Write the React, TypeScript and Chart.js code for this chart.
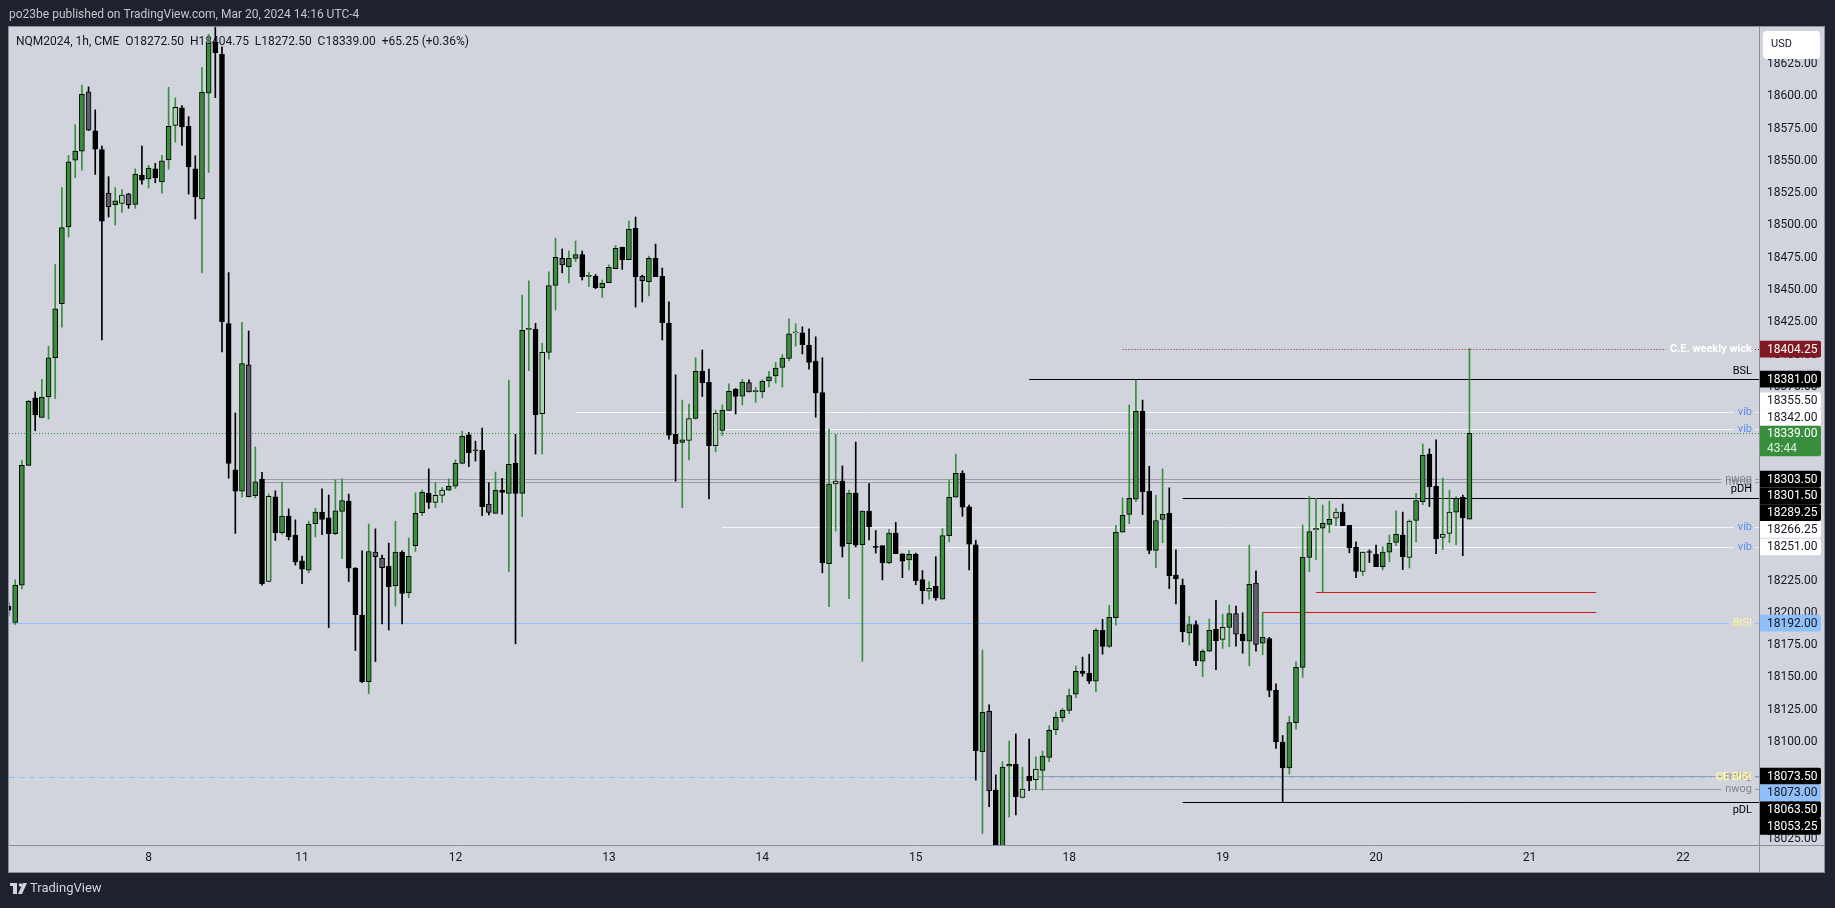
import React, { useEffect, useRef } from 'react';
import { Chart, registerables } from 'chart.js';

Chart.register(...registerables);

// ---------------- DATA ----------------
// Hourly bars of NQM2024 (CME), first element is bar index FIRST_BAR (Mar 7, 02:00 ET)
const FIRST_BAR = -1;

const opens = [
  18205, 18192.5, 18221.5, 18314.25, 18366.25, 18351.25, 18367.25, 18397.5, 18439.5, 18498.75,
  18550.5, 18557.5, 18603.5, 18573.25, 18558.75, 18525, 18516, 18517, 18524.5, 18516.25,
  18539, 18536, 18543.75, 18533.75, 18550.75, 18577.5, 18591, 18576.75, 18543.75, 18520.5,
  18602.5, 18641.75, 18632.5, 18424, 18310.75, 18294.25, 18392, 18290.75, 18303.5, 18224.25,
  18289.75, 18262, 18275, 18260.25, 18240.25, 18233, 18269, 18278, 18273.5, 18261.25,
  18278.5, 18286.5, 18234.75, 18198.25, 18146.75, 18247, 18242.25, 18236, 18221, 18247,
  18215.5, 18252, 18277.5, 18292.5, 18285.5, 18291, 18295, 18298, 18315.75, 18337.75,
  18326, 18325.75, 18284.25, 18277, 18295, 18292.5, 18315.75, 18292.5, 18419.5, 18419.5,
  18354.25, 18401.75, 18453.5, 18474.5, 18468, 18474.5, 18477.5, 18460.5, 18460.5, 18451.75,
  18455.75, 18466.5, 18483, 18473.5, 18497.75, 18460.5, 18456.5, 18474.5, 18460.5, 18424.25,
  18338.25, 18332, 18333.5, 18350.5, 18387, 18378.5, 18329.5, 18341.25, 18356.75, 18373,
  18367.75, 18378.25, 18371.25, 18371, 18379.5, 18383.5, 18390, 18397, 18416.75, 18416.75,
  18407.25, 18395, 18370.5, 18238, 18299.75, 18302, 18253.5, 18292.75, 18252.75, 18278.75,
  18251, 18252, 18238.75, 18261.75, 18245.75, 18241, 18245.25, 18225.75, 18216.75, 18220.5,
  18210.5, 18259.75, 18289.5, 18308, 18282, 18252.75, 18092.5, 18123.75, 18062.75, 18015,
  18081.25, 18082.75, 18057, 18073.5, 18070.75, 18078, 18088, 18109.5, 18118.75, 18124.5,
  18137, 18154.75, 18153.25, 18147, 18186.5, 18174, 18196.25, 18262.5, 18276.25, 18288,
  18356, 18294, 18248.25, 18272.25, 18277, 18229.25, 18221.25, 18184.5, 18191, 18162.5,
  18170.25, 18187.25, 18179.5, 18188.75, 18199.5, 18183.5, 18178, 18223, 18176.5, 18180,
  18140, 18100, 18080, 18115, 18157.75, 18243, 18264.25, 18265.5, 18268.5, 18273.25,
  18278, 18267.75, 18250.75, 18232, 18247, 18245.25, 18235.75, 18247, 18254.5, 18260.25,
  18243, 18271.5, 18286, 18322.75, 18298, 18258.5, 18261.5, 18278, 18289.5, 18272.5,
];

const highs = [
  18208, 18225.5, 18318, 18364.5, 18371, 18380.75, 18406.5, 18469.75, 18529.25, 18554.25,
  18578, 18608.75, 18607.25, 18589.5, 18561.5, 18537.75, 18529.25, 18527.75, 18524.75, 18543.75,
  18561.5, 18546.5, 18548, 18554.25, 18607, 18598.75, 18592.75, 18584.25, 18554, 18622.25,
  18648, 18660, 18638.25, 18463.5, 18354.75, 18425, 18418.25, 18328.5, 18308.75, 18292,
  18294.5, 18301.25, 18280.5, 18272, 18244, 18271, 18281, 18296, 18291.25, 18303,
  18303.75, 18292, 18235, 18248, 18268.75, 18265, 18244.75, 18254, 18271, 18248,
  18258, 18293, 18295, 18311.5, 18301, 18297, 18303.75, 18318.5, 18340.75, 18339.75,
  18333, 18343, 18300.75, 18309, 18304.25, 18380.25, 18338.25, 18446, 18457, 18424.25,
  18408.75, 18464, 18490.25, 18481.75, 18480.25, 18488, 18480.25, 18463.75, 18462, 18457.75,
  18469.5, 18484.5, 18483.25, 18503.5, 18506.5, 18461.5, 18476.25, 18485.5, 18467, 18440.75,
  18384.25, 18364.75, 18361.75, 18397.5, 18403.5, 18388.75, 18357, 18361, 18377.25, 18373.75,
  18380.75, 18380.5, 18374.5, 18380.5, 18387, 18394, 18400, 18427.75, 18423.75, 18421.5,
  18420, 18413.75, 18397.5, 18342.25, 18338.25, 18313.75, 18295, 18332.25, 18279, 18300,
  18263.75, 18252, 18264.75, 18270, 18245.75, 18248.5, 18246.25, 18232.75, 18224.25, 18243.5,
  18265.25, 18303, 18323, 18310, 18283.5, 18256.25, 18171.25, 18128.75, 18074.5, 18084.75,
  18100.75, 18106.25, 18080.5, 18102.25, 18088.5, 18093, 18112.5, 18123.25, 18126, 18141,
  18158.75, 18165.75, 18168, 18187.75, 18195, 18205.75, 18267.75, 18289, 18361, 18380.25,
  18364.75, 18313.5, 18291.25, 18311.5, 18296.75, 18248.75, 18226.25, 18197.5, 18193.75, 18171.75,
  18195.25, 18209.75, 18199, 18206, 18205.25, 18200, 18252.5, 18232.5, 18200.5, 18181,
  18145, 18105, 18120, 18162, 18268, 18290, 18288.75, 18283.5, 18286.5, 18281,
  18284.25, 18267.75, 18255, 18247, 18248.75, 18252.5, 18251.25, 18260.25, 18279, 18278,
  18272, 18292.5, 18330.75, 18327, 18334, 18304.5, 18295, 18290, 18291.25, 18404.75,
];

const lows = [
  18198, 18191, 18218.5, 18314, 18341, 18351, 18350, 18366, 18421.25, 18491,
  18537, 18542.75, 18573.5, 18539.5, 18411.25, 18506.5, 18500.25, 18510, 18513.25, 18513.25,
  18532, 18529, 18533, 18525, 18543.5, 18564.5, 18562, 18524.25, 18505, 18463.25,
  18541, 18599, 18402, 18304.25, 18261.5, 18289.5, 18289.75, 18289, 18221.5, 18224,
  18256, 18260.75, 18256.5, 18237, 18222.5, 18231, 18258.75, 18260.5, 18188.5, 18260.5,
  18242, 18224.25, 18170.75, 18146, 18137.5, 18162.25, 18191.5, 18186.75, 18205.25, 18191.5,
  18211.75, 18247.5, 18275.25, 18280.75, 18281.5, 18285.25, 18294.75, 18296.25, 18315.25, 18313.25,
  18317.5, 18275.25, 18275.75, 18277, 18276.5, 18232, 18176, 18274.5, 18387.5, 18323,
  18323, 18396.5, 18434.5, 18463.25, 18455.5, 18472, 18457.75, 18452.5, 18451, 18444.25,
  18455.75, 18466.5, 18466, 18473.5, 18436.75, 18440.75, 18445.5, 18460.25, 18411.25, 18334.5,
  18302, 18281.5, 18318.5, 18350, 18367.5, 18288.25, 18324.75, 18337.25, 18356.75, 18354,
  18361, 18371, 18363, 18366.5, 18375, 18378, 18374.75, 18395, 18406.5, 18400.5,
  18388.75, 18351.5, 18231, 18204.75, 18263.25, 18243.25, 18211, 18251, 18162.5, 18256.5,
  18246.25, 18225.5, 18238, 18245.75, 18227.25, 18233.25, 18221.75, 18207, 18210.5, 18209.75,
  18210.5, 18255, 18289.5, 18274.75, 18233.25, 18070.5, 18029.25, 18050, 17998, 18005,
  18041.75, 18043.5, 18056.5, 18062.25, 18063, 18062.75, 18084.75, 18105.75, 18115.75, 18122,
  18134.25, 18151, 18145.25, 18139, 18168, 18173.25, 18190.5, 18262.5, 18269, 18286,
  18276, 18245.75, 18235, 18254.25, 18218.75, 18207, 18177.5, 18175, 18159, 18150.5,
  18170, 18156, 18172.5, 18173.75, 18174.25, 18168.75, 18159, 18170.25, 18167.5, 18135,
  18095, 18053.25, 18075, 18110, 18150, 18232, 18241.25, 18216, 18262, 18267.5,
  18267.5, 18246.5, 18227.25, 18229, 18239, 18235.75, 18233.25, 18239.5, 18252, 18233.5,
  18234.75, 18255, 18283.75, 18282.25, 18245.75, 18249, 18254.5, 18252.75, 18244.25, 18272.5,
];

const closes = [
  18202, 18221.5, 18314.25, 18363.75, 18353.25, 18367, 18397.5, 18435.5, 18498.25, 18549.25,
  18557.5, 18601.5, 18573.75, 18559, 18503.25, 18514.5, 18519, 18523.5, 18516, 18539.75,
  18535, 18544.5, 18537, 18550, 18576.75, 18591.5, 18576.25, 18545.25, 18522, 18603,
  18641.25, 18633.75, 18425.5, 18315.75, 18294.25, 18393, 18290, 18301.5, 18222.5, 18290.25,
  18262, 18275, 18259, 18239.5, 18233.75, 18268.5, 18278, 18272.25, 18261.25, 18279,
  18287, 18234.5, 18198.5, 18146.75, 18247.5, 18243.5, 18235, 18220.25, 18247, 18215,
  18243.75, 18277, 18293.25, 18285.5, 18291, 18295, 18298, 18315.75, 18336.75, 18324,
  18325.5, 18282.25, 18277.75, 18295, 18293.25, 18315, 18292.5, 18418.75, 18419.75, 18353.5,
  18401.75, 18453.5, 18475.25, 18469.5, 18474.5, 18477.5, 18460.25, 18460.75, 18451.75, 18455.25,
  18467.5, 18482.25, 18473.5, 18497, 18460.25, 18457.25, 18474.5, 18460.25, 18424.75, 18337.5,
  18331, 18334, 18350.5, 18387, 18378.25, 18329.5, 18354.5, 18356.75, 18371.5, 18367.5,
  18378.75, 18371, 18371.5, 18379.5, 18382.75, 18389.5, 18397.25, 18416, 18417, 18407.75,
  18394, 18370.25, 18238.75, 18299.75, 18302, 18251.5, 18292.75, 18252.5, 18278.75, 18266.5,
  18250.75, 18238.75, 18261.75, 18245.75, 18240, 18245.25, 18225, 18217.25, 18219, 18211.75,
  18259.75, 18289.5, 18308, 18281.75, 18253.25, 18093.25, 18123, 18062.25, 18010, 18080.5,
  18082.75, 18057.75, 18063.5, 18070, 18079, 18089, 18109, 18119, 18124.5, 18136,
  18154.75, 18153, 18147, 18186.5, 18174, 18196.5, 18262.5, 18275.5, 18288.75, 18356,
  18293.75, 18248.25, 18271.5, 18276.25, 18228.75, 18226.5, 18185.5, 18191, 18163, 18170.25,
  18186.5, 18178.5, 18188.75, 18199.5, 18183.5, 18178.5, 18222, 18175.5, 18181, 18140,
  18100, 18080, 18115, 18157.75, 18243, 18263, 18265.5, 18269.25, 18272.5, 18278,
  18267.5, 18250.5, 18232, 18247, 18246.75, 18235.75, 18247, 18253.75, 18260.75, 18243.5,
  18271, 18287, 18322, 18297.75, 18257.5, 18260.75, 18278, 18288.75, 18273.75, 18339,
];

// time axis: bar index of the first bar of each calendar day, and its label
const dayTickIndex = [20, 43, 66, 89, 112, 135, 158, 181, 204, 227, 250];
const dayTickLabels = ['8', '11', '12', '13', '14', '15', '18', '19', '20', '21', '22'];

// price axis tick labels
const priceTicks = [
  18025, 18050, 18075, 18100, 18125, 18150, 18175, 18200, 18225, 18250, 18275, 18300, 18325,
  18350, 18375, 18400, 18425, 18450, 18475, 18500, 18525, 18550, 18575, 18600, 18625,
];

// horizontal level drawings
const levelNames = ['C.E. weekly wick', 'BSL', 'vib', 'vib', 'nwog', 'nwog', 'pDH', 'vib', 'vib', 'BISI', 'nwog', 'nwog', 'CE BISI', 'pDL'];
const levelPrices = [18404.25, 18381, 18355.5, 18342, 18303.5, 18301.5, 18289.25, 18266.25, 18251, 18192, 18073.5, 18063.5, 18073, 18053.25];
const levelStartBars = [166, 152, 84, 106, 37, 37, 175, 106, 130, -3, 152, 152, -3, 175];
const levelKinds = ['weekly', 'bsl', 'vib', 'vib', 'nwog', 'nwog', 'pdh', 'vib', 'vib', 'bisi', 'nwog', 'nwog', 'cebisi', 'pdl'];

// red range segments
const rangePrices = [18216.25, 18200.5];
const rangeStartBars = [195, 187];
const rangeEndBars = [237, 237];

const symbolInfo = ['NQM2024', '1h', 'CME'];
const headerText = 'po23be published on TradingView.com, Mar 20, 2024 14:16 UTC-4';
const countdownText = '43:44';

// ---------------- VIEW / STYLE ----------------
const W = 1835;
const H = 908;
const X_MIN = -0.9264;
const X_MAX = 261.405;
const PRICE_MIN = 18020.23;
const PRICE_MAX = 18653.65;
const PANEL = { left: 9, top: 27, right: 1824, bottom: 872 };
const FONT = 'Roboto, "Noto Sans", sans-serif';

const GREEN = '#388e3c';
const LIGHT = '#a5d6a7';
const GRAY = '#5d606b';
const BLACK = '#000000';
const AXIS_LINE = '#8c8f99';

const LEVEL_STYLE: any = {
  weekly: { line: '#9b1c1c', dash: [1, 2], text: '#ffffff', font: `bold 11px ${FONT}`, place: 'center', box: '#801922', boxText: '#ffffff' },
  bsl: { line: '#000000', dash: [], text: '#000000', font: `11px ${FONT}`, place: 'above', box: '#000000', boxText: '#ffffff' },
  vib: { line: '#f3f4f8', dash: [], text: '#5b8def', font: `11px ${FONT}`, place: 'center', box: '#ffffff', boxText: '#131722' },
  nwog: { line: '#9a9da6', dash: [], text: '#80838d', font: `11px ${FONT}`, place: 'center', box: '#000000', boxText: '#ffffff' },
  pdh: { line: '#000000', dash: [], text: '#000000', font: `11px ${FONT}`, place: 'above', box: '#000000', boxText: '#ffffff' },
  pdl: { line: '#000000', dash: [], text: '#000000', font: `11px ${FONT}`, place: 'below', box: '#000000', boxText: '#ffffff' },
  bisi: { line: '#90bff9', dash: [], text: '#fff59d', font: `11px ${FONT}`, place: 'center', box: '#90bff9', boxText: '#131722' },
  cebisi: { line: '#90bff9', dash: [6, 4], text: '#fff59d', font: `bold 11px ${FONT}`, place: 'center', box: '#90bff9', boxText: '#131722' },
};

const fmt = (v: number) => v.toFixed(2);

function roundRect(ctx: CanvasRenderingContext2D, x: number, y: number, w: number, h: number, r: number) {
  ctx.beginPath();
  ctx.moveTo(x, y);
  ctx.lineTo(x + w - r, y);
  ctx.quadraticCurveTo(x + w, y, x + w, y + r);
  ctx.lineTo(x + w, y + h - r);
  ctx.quadraticCurveTo(x + w, y + h, x + w - r, y + h);
  ctx.lineTo(x, y + h);
  ctx.closePath();
}

function levelTextGeom(ctx: CanvasRenderingContext2D, k: number, right: number) {
  const st = LEVEL_STYLE[levelKinds[k]];
  ctx.font = st.font;
  const tw = ctx.measureText(levelNames[k]).width;
  const tr = right - 7;
  return { st, tw, tr, tl: tr - tw };
}

const tvPlugin = {
  id: 'tvDecor',
  beforeDraw(chart: any) {
    const ctx: CanvasRenderingContext2D = chart.ctx;
    ctx.save();
    ctx.fillStyle = '#1e222d';
    ctx.fillRect(0, 0, W, H);
    ctx.fillStyle = '#d1d4dc';
    ctx.fillRect(PANEL.left, PANEL.top, PANEL.right - PANEL.left, PANEL.bottom - PANEL.top);
    ctx.strokeStyle = AXIS_LINE;
    ctx.lineWidth = 1;
    ctx.strokeRect(PANEL.left - 0.5, PANEL.top - 0.5, PANEL.right - PANEL.left + 1, PANEL.bottom - PANEL.top + 1);
    // header
    ctx.fillStyle = '#c3c6ce';
    ctx.font = `12px ${FONT}`;
    ctx.textBaseline = 'middle';
    ctx.textAlign = 'left';
    ctx.fillText(headerText, 9, 15);
    // footer logo
    ctx.fillStyle = '#d1d4dc';
    ctx.fillRect(10, 883, 7, 3);
    ctx.fillRect(13, 883, 4, 11);
    ctx.beginPath();
    ctx.arc(20.5, 885, 1.8, 0, Math.PI * 2);
    ctx.fill();
    ctx.beginPath();
    ctx.moveTo(23, 883);
    ctx.lineTo(27, 883);
    ctx.lineTo(22, 894);
    ctx.lineTo(18, 894);
    ctx.closePath();
    ctx.fill();
    ctx.font = `13px ${FONT}`;
    ctx.fillText('TradingView', 30, 889);
    ctx.restore();
  },
  beforeDatasetsDraw(chart: any) {
    const ctx: CanvasRenderingContext2D = chart.ctx;
    const a = chart.chartArea;
    const xs = chart.scales.x;
    const ys = chart.scales.y;
    ctx.save();
    ctx.beginPath();
    ctx.rect(a.left, a.top, a.right - a.left, a.bottom - a.top);
    ctx.clip();

    // legend
    const n = closes.length;
    const o = opens[n - 1], h = highs[n - 1], l = lows[n - 1], c = closes[n - 1];
    const ch = c - closes[n - 2];
    const pct = (ch / closes[n - 2]) * 100;
    const sign = ch >= 0 ? '+' : '';
    const legend = `${symbolInfo.join(', ')}  O${fmt(o)}  H${fmt(h)}  L${fmt(l)}  C${fmt(c)}  ${sign}${fmt(ch)} (${sign}${pct.toFixed(2)}%)`;
    ctx.fillStyle = '#131722';
    ctx.font = `12px ${FONT}`;
    ctx.textBaseline = 'middle';
    ctx.textAlign = 'left';
    ctx.fillText(legend, 16, 42);

    ctx.lineWidth = 1;
    // level lines
    levelPrices.forEach((p, k) => {
      const g = levelTextGeom(ctx, k, a.right);
      const yy = Math.round(ys.getPixelForValue(p)) + 0.5;
      const x0 = Math.max(a.left, xs.getPixelForValue(levelStartBars[k]));
      ctx.strokeStyle = g.st.line;
      ctx.setLineDash(g.st.dash);
      ctx.beginPath();
      if (g.st.place === 'center') {
        ctx.moveTo(x0, yy);
        ctx.lineTo(g.tl - 4, yy);
        ctx.moveTo(g.tr + 3, yy);
        ctx.lineTo(a.right, yy);
      } else {
        ctx.moveTo(x0, yy);
        ctx.lineTo(a.right, yy);
      }
      ctx.stroke();
    });
    // red ranges
    ctx.setLineDash([]);
    ctx.strokeStyle = '#d01818';
    rangePrices.forEach((p, k) => {
      const yy = Math.round(ys.getPixelForValue(p)) + 0.5;
      ctx.beginPath();
      ctx.moveTo(xs.getPixelForValue(rangeStartBars[k]), yy);
      ctx.lineTo(xs.getPixelForValue(rangeEndBars[k]), yy);
      ctx.stroke();
    });
    // current price line
    const cy = Math.round(ys.getPixelForValue(c)) + 0.5;
    ctx.strokeStyle = GREEN;
    ctx.setLineDash([1, 2]);
    ctx.beginPath();
    ctx.moveTo(a.left, cy);
    ctx.lineTo(a.right, cy);
    ctx.stroke();
    ctx.restore();
  },
  afterDraw(chart: any) {
    const ctx: CanvasRenderingContext2D = chart.ctx;
    const a = chart.chartArea;
    const ys = chart.scales.y;
    ctx.save();
    // axis separators
    ctx.strokeStyle = AXIS_LINE;
    ctx.lineWidth = 1;
    ctx.setLineDash([]);
    ctx.beginPath();
    ctx.moveTo(a.right + 0.5, PANEL.top);
    ctx.lineTo(a.right + 0.5, PANEL.bottom);
    ctx.moveTo(PANEL.left, a.bottom + 0.5);
    ctx.lineTo(PANEL.right, a.bottom + 0.5);
    ctx.stroke();

    // level texts
    ctx.textBaseline = 'middle';
    ctx.textAlign = 'left';
    levelPrices.forEach((p, k) => {
      const g = levelTextGeom(ctx, k, a.right);
      const yy = ys.getPixelForValue(p);
      let ty = yy;
      if (g.st.place === 'above') ty = yy - 8;
      if (g.st.place === 'below') ty = yy + 8;
      ctx.fillStyle = g.st.text;
      ctx.fillText(levelNames[k], g.tl, ty);
    });

    // price axis label boxes
    const BH = 16.7;
    const n = closes.length;
    const c = closes[n - 1];
    const curY = ys.getPixelForValue(c);
    const curTop = curY - 7.5;
    const curH = 30.5;
    const boxes = levelPrices.map((p, k) => ({ k, p, cy: ys.getPixelForValue(p), top: ys.getPixelForValue(p) - BH / 2 }));
    const above = boxes.filter((b) => b.cy < curY).sort((u, v) => v.cy - u.cy);
    const below = boxes.filter((b) => b.cy >= curY).sort((u, v) => u.cy - v.cy);
    let lim = curTop;
    above.forEach((b) => {
      b.top = Math.min(b.top, lim - BH);
      lim = b.top;
    });
    lim = curTop + curH;
    below.forEach((b) => {
      b.top = Math.max(b.top, lim);
      lim = b.top + BH;
    });
    const bx = a.right + 1;
    const bw = 61;
    ctx.font = `12px ${FONT}`;
    boxes.forEach((b) => {
      const st = LEVEL_STYLE[levelKinds[b.k]];
      ctx.fillStyle = st.box;
      roundRect(ctx, bx, b.top, bw, BH, 2);
      ctx.fill();
      ctx.fillStyle = st.boxText;
      ctx.fillText(fmt(b.p), bx + 7, b.top + BH / 2 + 0.5);
    });
    // current price box
    ctx.fillStyle = GREEN;
    roundRect(ctx, bx, curTop, bw, curH, 2);
    ctx.fill();
    ctx.fillStyle = '#ffffff';
    ctx.fillText(fmt(c), bx + 7, curY + 0.5);
    ctx.fillStyle = '#dcefdc';
    ctx.fillText(countdownText, bx + 7, curY + 15.5);

    // USD box
    ctx.fillStyle = '#ffffff';
    ctx.beginPath();
    const ux = 1763, uy = 31, uw = 57, uh = 28, ur = 4;
    ctx.moveTo(ux + ur, uy);
    ctx.arcTo(ux + uw, uy, ux + uw, uy + uh, ur);
    ctx.arcTo(ux + uw, uy + uh, ux, uy + uh, ur);
    ctx.arcTo(ux, uy + uh, ux, uy, ur);
    ctx.arcTo(ux, uy, ux + uw, uy, ur);
    ctx.closePath();
    ctx.fill();
    ctx.fillStyle = '#131722';
    ctx.font = `11px ${FONT}`;
    ctx.fillText('USD', 1771, 44);
    ctx.restore();
  },
};

export default function App() {
  const ref = useRef<HTMLCanvasElement>(null);

  useEffect(() => {
    const canvas = ref.current;
    if (!canvas) return;
    const idx = opens.map((_, k) => FIRST_BAR + k);
    const isUp = (k: number) => closes[k] >= opens[k];
    const isInside = (k: number) => k > 0 && highs[k] <= highs[k - 1] && lows[k] >= lows[k - 1];
    const bodyColors = idx.map((_, k) => (isUp(k) ? (isInside(k) ? LIGHT : GREEN) : isInside(k) ? GRAY : BLACK));
    const wickColors = idx.map((_, k) => (isUp(k) ? GREEN : BLACK));
    const bodies = idx.map((x, k) => ({ x, y: [opens[k], closes[k]] }));
    const wicks = idx.map((x, k) => ({ x, y: [lows[k], highs[k]] }));

    const chart = new Chart(canvas, {
      type: 'bar',
      data: {
        datasets: [
          {
            label: 'body',
            data: bodies as any,
            backgroundColor: bodyColors,
            borderColor: '#000000',
            borderWidth: 1,
            borderSkipped: false,
            barThickness: 5,
            minBarLength: 1,
            grouped: false,
            order: 0,
            clip: 0,
          } as any,
          {
            label: 'wick',
            data: wicks as any,
            backgroundColor: wickColors,
            borderWidth: 0,
            barThickness: 1,
            grouped: false,
            order: 1,
            clip: 0,
          } as any,
        ],
      },
      options: {
        animation: false,
        responsive: false,
        devicePixelRatio: 1,
        events: [],
        layout: { padding: { left: PANEL.left, top: PANEL.top, right: W - PANEL.right, bottom: H - PANEL.bottom } },
        plugins: { legend: { display: false }, tooltip: { enabled: false } },
        scales: {
          x: {
            type: 'linear',
            min: X_MIN,
            max: X_MAX,
            offset: false,
            afterBuildTicks: (s: any) => {
              s.ticks = dayTickIndex.map((v) => ({ value: v }));
            },
            afterFit: (s: any) => {
              s.height = 27;
            },
            grid: { display: false, drawTicks: false },
            border: { display: false },
            ticks: {
              padding: 6,
              color: '#131722',
              font: { family: FONT, size: 12 },
              maxRotation: 0,
              autoSkip: false,
              callback: (v: any) => {
                const j = dayTickIndex.indexOf(Number(v));
                return j >= 0 ? dayTickLabels[j] : '';
              },
            },
          },
          y: {
            type: 'linear',
            position: 'right',
            min: PRICE_MIN,
            max: PRICE_MAX,
            afterBuildTicks: (s: any) => {
              s.ticks = priceTicks.map((v) => ({ value: v }));
            },
            afterFit: (s: any) => {
              s.width = 65;
            },
            grid: { display: false, drawTicks: false },
            border: { display: false },
            ticks: {
              padding: 8,
              color: '#131722',
              font: { family: FONT, size: 12 },
              callback: (v: any) => Number(v).toFixed(2),
            },
          },
        },
      } as any,
      plugins: [tvPlugin as any],
    });
    return () => chart.destroy();
  }, []);

  return (
    <div style={{ position: 'absolute', left: 0, top: 0, width: W, height: H }}>
      <canvas ref={ref} width={W} height={H} style={{ display: 'block', width: W, height: H }} />
    </div>
  );
}
